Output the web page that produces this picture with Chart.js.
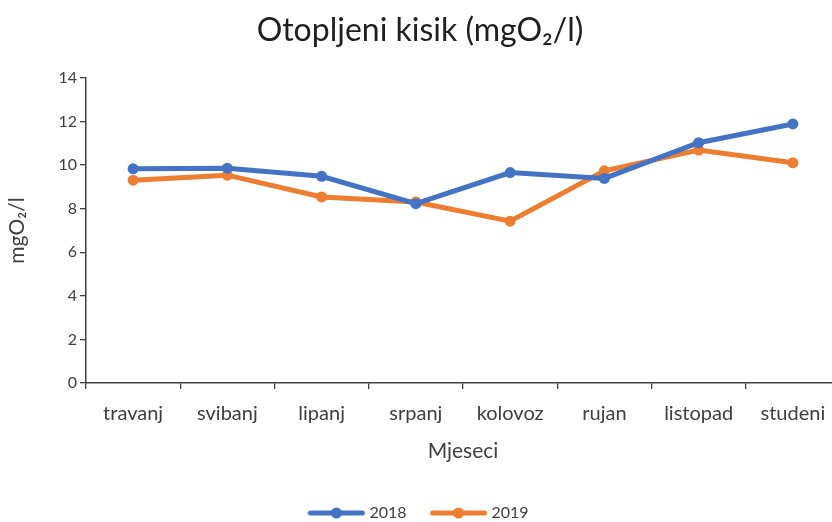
<!DOCTYPE html>
<html>
<head>
<meta charset="utf-8">
<script src="https://cdn.jsdelivr.net/npm/chart.js@4/dist/chart.umd.min.js"></script>
<style>
html,body{margin:0;padding:0;overflow:hidden;background:#fff;}
#wrap{width:840px;height:522px;}
</style>
</head>
<body>
<div id="wrap"><canvas id="c" width="840" height="522"></canvas></div>
<script>
const months = ['travanj','svibanj','lipanj','srpanj','kolovoz','rujan','listopad','studeni'];
const values2018 = [9.83, 9.86, 9.49, 8.23, 9.66, 9.39, 11.03, 11.89];
const values2019 = [9.31, 9.54, 8.54, 8.31, 7.43, 9.74, 10.69, 10.11];
const seriesNames = ['2018', '2019'];
const colors = ['#4472C4', '#ED7D31'];

const FONT = "Lato, 'Noto Sans', 'DejaVu Sans', sans-serif";
const TXT = '#404040';

function legendIcon(color) {
  const c = document.createElement('canvas');
  c.width = 58; c.height = 14;
  const x = c.getContext('2d');
  x.strokeStyle = color; x.lineWidth = 5; x.lineCap = 'round';
  x.beginPath(); x.moveTo(3, 7); x.lineTo(55, 7); x.stroke();
  x.fillStyle = color;
  x.beginPath(); x.arc(29, 7, 5.5, 0, Math.PI * 2); x.fill();
  return c;
}

const ds = [values2018, values2019].map((vals, i) => ({
  label: seriesNames[i],
  data: vals,
  borderColor: colors[i],
  backgroundColor: colors[i],
  borderWidth: 5,
  pointRadius: 5.5,
  pointHoverRadius: 5.5,
  pointBorderWidth: 0,
  pointStyle: 'circle',
  tension: 0,
  legendIcon: legendIcon(colors[i])
}));

new Chart(document.getElementById('c'), {
  type: 'line',
  data: { labels: months, datasets: ds },
  options: {
    responsive: false,
    animation: false,
    layout: { autoPadding: false, padding: { left: 0, right: 0, top: 0, bottom: -9 } },
    plugins: {
      title: {
        display: true,
        text: 'Otopljeni kisik (mgO\u2082/l)',
        color: '#1f1f1f',
        font: { family: FONT, size: 32, weight: 'normal' },
        padding: { top: 11, bottom: 28.6 }
      },
      legend: {
        position: 'bottom',
        labels: {
          color: TXT,
          font: { family: FONT, size: 16 },
          usePointStyle: true,
          pointStyleWidth: 50,
          padding: 27,
          generateLabels: (chart) => chart.data.datasets.map((d, i) => ({
            text: d.label,
            fillStyle: d.borderColor,
            strokeStyle: d.borderColor,
            lineWidth: 0,
            pointStyle: d.legendIcon,
            datasetIndex: i,
            hidden: false,
            fontColor: TXT
          }))
        }
      },
      tooltip: { enabled: false }
    },
    scales: {
      x: {
        offset: true,
        afterFit: (s) => { s.height = 95; },
        grid: {
          offset: true,
          drawOnChartArea: false,
          drawTicks: true,
          tickLength: 6,
          color: '#404040',
          lineWidth: 1.3
        },
        border: { color: '#404040', width: 1.5 },
        ticks: {
          color: TXT,
          font: { family: FONT, size: 20 },
          padding: 13,
          maxRotation: 0,
          autoSkip: false
        },
        title: {
          display: true,
          text: 'Mjeseci',
          color: TXT,
          font: { family: FONT, size: 21 },
          padding: { top: 4, bottom: 14.4 }
        }
      },
      y: {
        min: 0,
        max: 14,
        afterFit: (s) => { s.width = 86; },
        grid: {
          drawOnChartArea: false,
          drawTicks: true,
          tickLength: 6,
          color: '#404040',
          lineWidth: 1.3
        },
        border: { color: '#404040', width: 1.5 },
        ticks: {
          stepSize: 2,
          color: TXT,
          font: { family: FONT, size: 16 },
          padding: 3
        },
        title: {
          display: true,
          text: 'mgO\u2082/l',
          color: TXT,
          font: { family: FONT, size: 21 },
          padding: { top: 5, bottom: 0 }
        }
      }
    }
  }
});
</script>
</body>
</html>
